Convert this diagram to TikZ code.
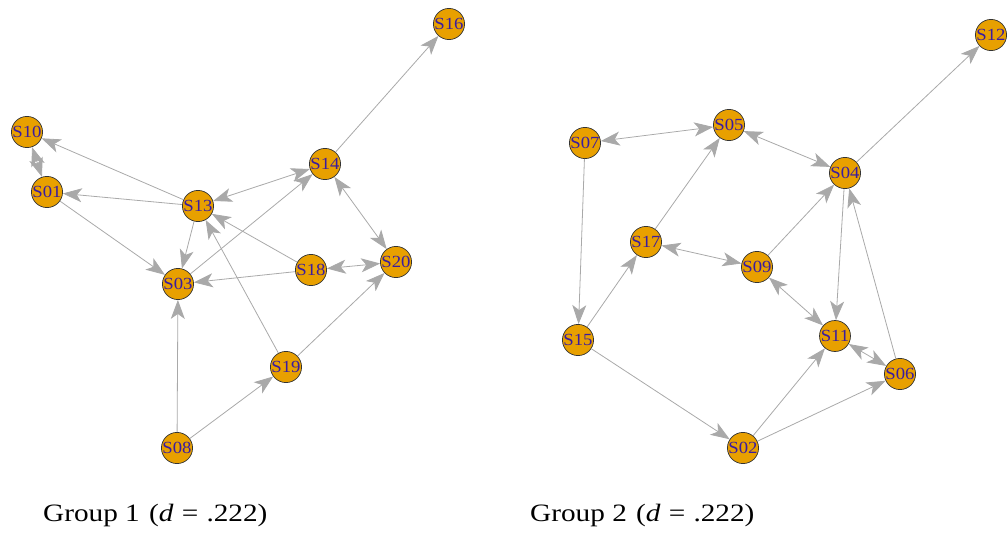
\documentclass[tikz,border=0pt]{standalone}
\usepackage{fontspec}
\setmainfont{Liberation Serif}
\usetikzlibrary{arrows.meta}
\definecolor{nodefill}{HTML}{E8A000}
\definecolor{labcol}{HTML}{3A1CA0}
\definecolor{edgecol}{HTML}{A9A9A9}
\newcommand{\lab}[1]{\scalebox{1.1}[1]{#1}}
\tikzset{
  vert/.style={circle,draw=black!80,line width=0.7pt,fill=nodefill,minimum size=31pt,inner sep=0pt,
    text=labcol,font=\fontsize{17}{17}\selectfont},
  edge/.style={draw=edgecol,line width=0.8pt},
  gtip/.tip={Stealth[length=19pt,width=14pt,inset=5pt,fill=edgecol]},
  one/.style={edge,-gtip},
  two/.style={edge,gtip-gtip},
  captext/.style={font=\fontsize{25}{25}\selectfont,anchor=base west,inner sep=0pt}
}
\begin{document}
\begin{tikzpicture}[x=1pt,y=-1pt]
\useasboundingbox (0,0) rectangle (1008,534);
% Group 1
\node[vert] (S10) at (27,132) {\lab{S10}};
\node[vert] (S01) at (47,192) {\lab{S01}};
\node[vert] (S13) at (198,206) {\lab{S13}};
\node[vert] (S14) at (325,164) {\lab{S14}};
\node[vert] (S16) at (449,24) {\lab{S16}};
\node[vert] (S03) at (178,284) {\lab{S03}};
\node[vert] (S18) at (311,270) {\lab{S18}};
\node[vert] (S20) at (396,262) {\lab{S20}};
\node[vert] (S19) at (286,367) {\lab{S19}};
\node[vert] (S08) at (177,448) {\lab{S08}};
% Group 2
\node[vert] (S07) at (585,143) {\lab{S07}};
\node[vert] (S05) at (729,125) {\lab{S05}};
\node[vert] (S04) at (845,173) {\lab{S04}};
\node[vert] (S12) at (991,35) {\lab{S12}};
\node[vert] (S17) at (646,242) {\lab{S17}};
\node[vert] (S09) at (757,267) {\lab{S09}};
\node[vert] (S15) at (578,340) {\lab{S15}};
\node[vert] (S11) at (835,336) {\lab{S11}};
\node[vert] (S06) at (900,374) {\lab{S06}};
\node[vert] (S02) at (743,448) {\lab{S02}};
% edges group 1
\path[two] (S01) -- (S10);
\path[one] (S13) -- (S10);
\path[one] (S13) -- (S01);
\path[one] (S01) -- (S03);
\path[one] (S13) -- (S03);
\path[one] (S18) -- (S03);
\path[one] (S18) -- (S13);
\path[one] (S19) -- (S13);
\path[two] (S13) -- (S14);
\path[one] (S03) -- (S14);
\path[two] (S14) -- (S20);
\path[two] (S18) -- (S20);
\path[one] (S19) -- (S20);
\path[one] (S08) -- (S03);
\path[one] (S08) -- (S19);
\path[one] (S14) -- (S16);
% edges group 2
\path[two] (S07) -- (S05);
\path[two] (S05) -- (S04);
\path[one] (S04) -- (S12);
\path[one] (S17) -- (S05);
\path[one] (S09) -- (S04);
\path[two] (S17) -- (S09);
\path[one] (S07) -- (S15);
\path[one] (S15) -- (S17);
\path[two] (S09) -- (S11);
\path[one] (S04) -- (S11);
\path[one] (S06) -- (S04);
\path[two] (S11) -- (S06);
\path[one] (S15) -- (S02);
\path[one] (S02) -- (S11);
\path[one] (S02) -- (S06);
\node[captext] (c1) at (43,521) {\scalebox{1.17}[1]{Group 1\hspace{8pt}(\textit{d}\hspace{7pt}=\hspace{7pt}.222)}};
\node[captext] (c2) at (530,521) {\scalebox{1.17}[1]{Group 2\hspace{8pt}(\textit{d}\hspace{7pt}=\hspace{7pt}.222)}};
\end{tikzpicture}
\end{document}
